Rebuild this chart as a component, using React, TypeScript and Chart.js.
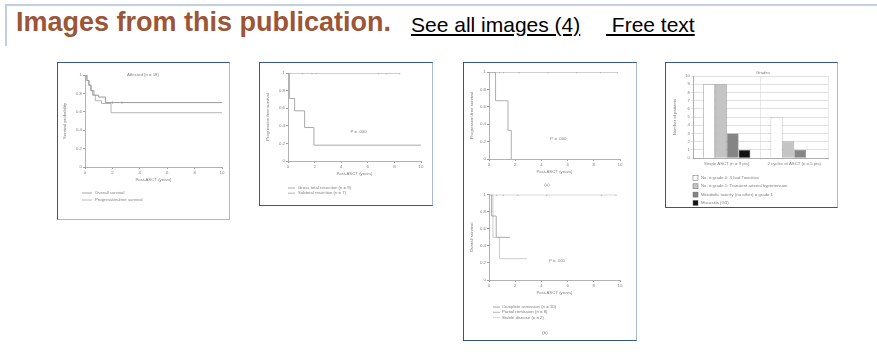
import React, { useEffect, useRef } from "react";
import { Chart, registerables } from "chart.js";

Chart.register(...registerables);

// ---------------- page text ----------------
const headerTitle = "Images from this publication.";
const linkAll = "See all images (4)";
const linkFree = "\u00a0Free text";

// ---------------- shared KM axes ----------------
const yearsMin = 0;
const yearsMax = 10;
const yearsStep = 2;
const survMin = 0;
const survMax = 1;
const survStep = 0.2;
const xTitleYears = "Post-ASCT (years)";

// ---------------- Figure 1 ----------------
const f1Title = "Affected (n = 18)";
const f1YTitle = "Survival probability";
const f1OsLabel = "Overall survival";
const f1OsTimes = [0, 0.15, 0.3, 0.45, 0.65, 1.0, 1.5, 10];
const f1OsValues = [1, 0.94, 0.89, 0.83, 0.78, 0.76, 0.7, 0.7];
const f1OsCensor = [2.0, 2.7];
const f1PfsLabel = "Progression-free survival";
const f1PfsTimes = [0, 0.1, 0.25, 0.4, 0.55, 0.75, 1.2, 1.9, 10];
const f1PfsValues = [1, 0.94, 0.89, 0.83, 0.78, 0.72, 0.69, 0.59, 0.59];

// ---------------- Figure 2 ----------------
const f2YTitle = "Progression-free survival";
const f2PText = "P = .000";
const f2PAt = [5.3, 0.33];
const f2ALabel = "Gross total resection (n = 9)";
const f2ATimes = [0, 8.4];
const f2AValues = [1, 1];
const f2ACensor = [1.1, 1.8, 2.1, 6.8, 7.4, 8.4];
const f2BLabel = "Subtotal resection (n = 7)";
const f2BTimes = [0, 0.1, 0.5, 1.25, 1.95, 10];
const f2BValues = [1, 0.71, 0.57, 0.38, 0.18, 0.18];

// ---------------- Figure 3a ----------------
const f3aYTitle = "Progression-free survival";
const f3aPText = "P = .000";
const f3aPAt = [5.3, 0.23];
const f3aCaption = "(a)";
const f3aALabel = "Complete remission (n = 10)";
const f3aATimes = [0, 9.8];
const f3aAValues = [1, 1];
const f3aACensor = [0.2, 0.4, 0.8, 1.1, 2.3, 4.5, 6.7, 8.5, 9.8];
const f3aBLabel = "Partial remission / stable disease";
const f3aBTimes = [0, 0.5, 1.45, 1.7];
const f3aBValues = [1, 0.67, 0.33, 0];

// ---------------- Figure 3b ----------------
const f3bYTitle = "Overall survival";
const f3bPText = "P = .001";
const f3bPAt = [5.2, 0.22];
const f3bCaption = "(b)";
const f3bCRLabel = "Complete remission (n = 10)";
const f3bCRTimes = [0, 9.7];
const f3bCRValues = [1, 1];
const f3bCRCensor = [0.2, 0.6, 1.1, 2.2, 4.4, 8.6, 9.7];
const f3bPRLabel = "Partial remission (n = 8)";
const f3bPRTimes = [0, 0.2, 0.55, 1.6];
const f3bPRValues = [1, 0.75, 0.5, 0.5];
const f3bSDLabel = "Stable disease (n = 2)";
const f3bSDTimes = [0, 0.3, 0.8, 2.9];
const f3bSDValues = [1, 0.5, 0.25, 0.25];

// ---------------- Figure 4 (bars) ----------------
const f4Title = "Grades";
const f4YTitle = "Number of patients";
const f4Categories = ["Single ASCT (n = 9 pts)", "2 cycles of ASCT (n = 5 pts)"];
const f4YMax = 10;
const f4Grade0Label = "No. = grade 0: 3 had Toxicities";
const f4Grade0 = [9, 5];
const f4Grade1Label = "No. = grade 1: Transient arterial hypertension";
const f4Grade1 = [9, 2];
const f4Grade2Label = "Metabolic toxicity (no other) = grade 1";
const f4Grade2 = [3, 1];
const f4Grade3Label = "Mucositis (G3)";
const f4Grade3 = [1, 0];

// ---------------- helpers ----------------
const TXT = "#7e7e7e";
const AXIS = "#a0a0a0";
const tinyFont = { size: 4.3, family: "Arial" };

function stepAt(t: number, times: number[], values: number[]) {
  let v = values[0];
  for (let i = 0; i < times.length; i++) if (times[i] <= t) v = values[i];
  return v;
}

const shortNum = (v: any) => String(Number(Number(v).toFixed(1)));

type Series = { label: string; t: number[]; s: number[]; color: string; censor?: number[] };
type Extras = {
  texts?: { text: string; x: number; y: number; inData?: boolean; align?: CanvasTextAlign }[];
  legend?: { x: number; y: number; step: number; len: number; textX: number; kind?: "line" | "box"; box?: number };
};

function makeExtras(spec: Extras) {
  return {
    id: "thumbExtras",
    afterDraw(chart: any) {
      const ctx = chart.ctx as CanvasRenderingContext2D;
      ctx.save();
      ctx.font = "4.3px Arial";
      ctx.textBaseline = "middle";
      for (const t of spec.texts ?? []) {
        const x = t.inData ? chart.scales.x.getPixelForValue(t.x) : t.x;
        const y = t.inData ? chart.scales.y.getPixelForValue(t.y) : t.y;
        ctx.fillStyle = TXT;
        ctx.textAlign = t.align ?? "center";
        ctx.fillText(t.text, x, y);
      }
      const lg = spec.legend;
      if (lg) {
        let row = 0;
        chart.data.datasets.forEach((ds: any) => {
          if (!ds.label) return;
          const y = lg.y + row * lg.step;
          if (lg.kind === "box") {
            const b = lg.box ?? 5;
            ctx.fillStyle = ds.backgroundColor;
            ctx.fillRect(lg.x, y - b / 2, b, b);
            ctx.strokeStyle = "#666";
            ctx.lineWidth = 0.5;
            ctx.strokeRect(lg.x, y - b / 2, b, b);
          } else {
            ctx.strokeStyle = ds.borderColor;
            ctx.lineWidth = 0.9;
            ctx.beginPath();
            ctx.moveTo(lg.x, y);
            ctx.lineTo(lg.x + lg.len, y);
            ctx.stroke();
          }
          ctx.fillStyle = TXT;
          ctx.textAlign = "left";
          ctx.fillText(ds.label, lg.textX, y);
          row++;
        });
      }
      ctx.restore();
    },
  };
}

function kmConfig(o: {
  series: Series[];
  yTitle: string;
  yTitlePad: number;
  yWidth: number;
  xHeight: number;
  pad: { top: number; right: number; bottom: number };
  extras: Extras;
}): any {
  const datasets: any[] = o.series.map((se) => ({
    label: se.label,
    data: se.t.map((x, i) => ({ x, y: se.s[i] })),
    borderColor: se.color,
    borderWidth: 1,
    stepped: "before",
    pointRadius: 0,
    fill: false,
  }));
  o.series.forEach((se) => {
    if (!se.censor) return;
    datasets.push({
      label: "",
      data: se.censor.map((x) => ({ x, y: stepAt(x, se.t, se.s) })),
      showLine: false,
      pointStyle: "line",
      rotation: 90,
      pointRadius: 1.3,
      borderColor: se.color,
      borderWidth: 0.7,
    });
  });
  return {
    type: "line",
    data: { datasets },
    options: {
      responsive: false,
      maintainAspectRatio: false,
      animation: false,
      layout: { padding: { top: o.pad.top, right: o.pad.right, bottom: o.pad.bottom, left: 0 } },
      plugins: { legend: { display: false }, tooltip: { enabled: false }, title: { display: false } },
      scales: {
        x: {
          type: "linear",
          min: yearsMin,
          max: yearsMax,
          ticks: { stepSize: yearsStep, font: tinyFont, color: TXT, padding: 1, maxRotation: 0, autoSkip: false },
          grid: { drawOnChartArea: false, drawTicks: true, tickLength: 2, color: AXIS },
          border: { color: AXIS, width: 0.8 },
          title: { display: true, text: xTitleYears, font: tinyFont, color: TXT, padding: { top: 0, bottom: 0.6 } },
          afterFit: (s: any) => {
            s.height = o.xHeight;
          },
        },
        y: {
          type: "linear",
          min: survMin,
          max: survMax,
          ticks: { stepSize: survStep, font: tinyFont, color: TXT, padding: 1, callback: shortNum },
          grid: { drawOnChartArea: false, drawTicks: true, tickLength: 2, color: AXIS },
          border: { color: AXIS, width: 0.8 },
          title: { display: true, text: o.yTitle, font: tinyFont, color: TXT, padding: { top: o.yTitlePad, bottom: 0 } },
          afterFit: (s: any) => {
            s.width = o.yWidth;
          },
        },
      },
    },
    plugins: [makeExtras(o.extras)],
  };
}

function barConfig(): any {
  const series = [
    { label: f4Grade0Label, data: f4Grade0, color: "#ffffff" },
    { label: f4Grade1Label, data: f4Grade1, color: "#c4c4c4" },
    { label: f4Grade2Label, data: f4Grade2, color: "#858585" },
    { label: f4Grade3Label, data: f4Grade3, color: "#111111" },
  ];
  return {
    type: "bar",
    data: {
      labels: f4Categories,
      datasets: series.map((s) => ({
        label: s.label,
        data: s.data,
        backgroundColor: s.color,
        borderColor: "#707070",
        borderWidth: 0.6,
        categoryPercentage: 0.7,
        barPercentage: 1,
      })),
    },
    options: {
      responsive: false,
      maintainAspectRatio: false,
      animation: false,
      layout: { padding: { top: 13, right: 8, bottom: 38, left: 0 } },
      plugins: { legend: { display: false }, tooltip: { enabled: false }, title: { display: false } },
      scales: {
        x: {
          ticks: { font: tinyFont, color: TXT, padding: 1, maxRotation: 0, autoSkip: false },
          grid: { color: "#dcdcdc", tickLength: 2, lineWidth: 0.7 },
          border: { color: AXIS, width: 0.8 },
          afterFit: (s: any) => {
            s.height = 10;
          },
        },
        y: {
          min: 0,
          max: f4YMax,
          ticks: { stepSize: 1, font: tinyFont, color: TXT, padding: 1 },
          grid: { color: "#d4d4d4", tickLength: 2, lineWidth: 0.7 },
          border: { color: AXIS, width: 0.8 },
          title: { display: true, text: f4YTitle, font: tinyFont, color: TXT, padding: { top: 6, bottom: 0 } },
          afterFit: (s: any) => {
            s.width = 27;
          },
        },
      },
    },
    plugins: [
      makeExtras({
        texts: [{ text: f4Title, x: 97, y: 10 }],
        legend: { x: 27, y: 115, step: 8.3, len: 5, textX: 35, kind: "box", box: 5 },
      }),
    ],
  };
}

function ChartCanvas(props: { make: () => any; left: number; top: number; width: number; height: number }) {
  const ref = useRef<HTMLCanvasElement>(null);
  useEffect(() => {
    const chart = new Chart(ref.current as HTMLCanvasElement, props.make());
    return () => chart.destroy();
  }, []);
  return (
    <canvas
      ref={ref}
      width={props.width}
      height={props.height}
      style={{ position: "absolute", left: props.left, top: props.top, width: props.width, height: props.height }}
    />
  );
}

function Box(props: { left: number; top: number; right: number; bottom: number; lightBottom?: boolean }) {
  const dark = "#34558f";
  const light = "#a7b7d6";
  return (
    <div
      style={{
        position: "absolute",
        left: props.left,
        top: props.top,
        width: props.right - props.left - 1,
        height: props.bottom - props.top - 1,
        borderTop: `1px solid ${dark}`,
        borderLeft: `1px solid ${dark}`,
        borderRight: `1px solid ${light}`,
        borderBottom: `1px solid ${props.lightBottom ? light : dark}`,
        background: "#fff",
      }}
    />
  );
}

export default function App() {
  const make1 = () =>
    kmConfig({
      series: [
        { label: f1OsLabel, t: f1OsTimes, s: f1OsValues, color: "#9a9a9a", censor: f1OsCensor },
        { label: f1PfsLabel, t: f1PfsTimes, s: f1PfsValues, color: "#b4b4b4" },
      ],
      yTitle: f1YTitle,
      yTitlePad: 4.5,
      yWidth: 27,
      xHeight: 16,
      pad: { top: 12, right: 6, bottom: 35 },
      extras: {
        texts: [{ text: f1Title, x: 85, y: 12 }],
        legend: { x: 24, y: 130, step: 7, len: 10, textX: 37 },
      },
    });
  const make2 = () =>
    kmConfig({
      series: [
        { label: f2ALabel, t: f2ATimes, s: f2AValues, color: "#a2a2a2", censor: f2ACensor },
        { label: f2BLabel, t: f2BTimes, s: f2BValues, color: "#a8a8a8" },
      ],
      yTitle: f2YTitle,
      yTitlePad: 5.5,
      yWidth: 28,
      xHeight: 16,
      pad: { top: 10, right: 10, bottom: 27 },
      extras: {
        texts: [{ text: f2PText, x: f2PAt[0], y: f2PAt[1], inData: true }],
        legend: { x: 28, y: 125, step: 5.2, len: 7, textX: 38 },
      },
    });
  const make3a = () =>
    kmConfig({
      series: [
        { label: f3aALabel, t: f3aATimes, s: f3aAValues, color: "#a2a2a2", censor: f3aACensor },
        { label: f3aBLabel, t: f3aBTimes, s: f3aBValues, color: "#b0b0b0" },
      ],
      yTitle: f3aYTitle,
      yTitlePad: 5.5,
      yWidth: 25,
      xHeight: 16,
      pad: { top: 9, right: 15, bottom: 15 },
      extras: {
        texts: [
          { text: f3aPText, x: f3aPAt[0], y: f3aPAt[1], inData: true },
          { text: f3aCaption, x: 83, y: 122 },
        ],
      },
    });
  const make3b = () =>
    kmConfig({
      series: [
        { label: f3bCRLabel, t: f3bCRTimes, s: f3bCRValues, color: "#9c9c9c", censor: f3bCRCensor },
        { label: f3bPRLabel, t: f3bPRTimes, s: f3bPRValues, color: "#ababab" },
        { label: f3bSDLabel, t: f3bSDTimes, s: f3bSDValues, color: "#cdcdcd" },
      ],
      yTitle: f3bYTitle,
      yTitlePad: 5.5,
      yWidth: 25,
      xHeight: 16,
      pad: { top: 4, right: 15, bottom: 43 },
      extras: {
        texts: [
          { text: f3bPText, x: f3bPAt[0], y: f3bPAt[1], inData: true },
          { text: f3bCaption, x: 81, y: 143 },
        ],
        legend: { x: 29, y: 117, step: 5.3, len: 7, textX: 38 },
      },
    });

  return (
    <div
      style={{
        position: "absolute",
        left: 0,
        top: 0,
        width: 877,
        height: 356,
        overflow: "hidden",
        background: "#ffffff",
        fontFamily: 'Arial, "Liberation Sans", sans-serif',
      }}
    >
      <div style={{ position: "absolute", left: 5, top: 4, width: 872, height: 2, background: "#c2cfe1" }} />
      <div style={{ position: "absolute", left: 5, top: 4, width: 2, height: 42, background: "#c2cfe1" }} />
      <div
        style={{
          position: "absolute",
          left: 16,
          top: 8.5,
          fontSize: 27,
          lineHeight: "27px",
          fontWeight: "bold",
          color: "#9c5536",
          whiteSpace: "nowrap",
        }}
      >
        {headerTitle}
      </div>
      <a
        style={{
          position: "absolute",
          left: 411,
          top: 13.5,
          fontSize: 21,
          lineHeight: "21px",
          color: "#000",
          textDecoration: "underline",
          whiteSpace: "nowrap",
        }}
      >
        {linkAll}
      </a>
      <a
        style={{
          position: "absolute",
          left: 606,
          top: 13.5,
          fontSize: 21,
          lineHeight: "21px",
          color: "#000",
          textDecoration: "underline",
          whiteSpace: "nowrap",
        }}
      >
        {linkFree}
      </a>

      <Box left={57} top={62} right={229} bottom={219} lightBottom />
      <Box left={259} top={62} right={432} bottom={205} />
      <Box left={463} top={62} right={636} bottom={340} />
      <Box left={665} top={62} right={837} bottom={207} />

      <ChartCanvas make={make1} left={58} top={63} width={170} height={155} />
      <ChartCanvas make={make2} left={260} top={63} width={171} height={141} />
      <ChartCanvas make={make3a} left={464} top={63} width={171} height={127} />
      <ChartCanvas make={make3b} left={464} top={190} width={171} height={149} />
      <ChartCanvas make={barConfig} left={666} top={63} width={170} height={143} />
    </div>
  );
}
